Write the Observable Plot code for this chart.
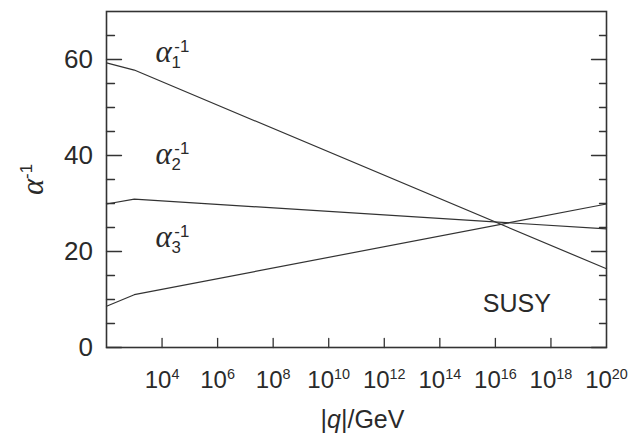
<!DOCTYPE html>
<html><head><meta charset="utf-8">
<script src="https://cdn.jsdelivr.net/npm/d3@7"></script>
<script src="https://cdn.jsdelivr.net/npm/@observablehq/plot@0.6"></script>
<style>body{margin:0;background:#fff} svg{display:block}</style>
</head><body><div id="chart"></div>
<script>
// ---- data ----
const energies = [1e2, 1e3, 1e20];            // |q| in GeV
const alpha1Inv = [59.3, 57.8, 16.4];
const alpha2Inv = [29.9, 30.9, 24.7];
const alpha3Inv = [8.6, 11.0, 29.9];
const seriesLabels = ["*α*_{1}^{-1}", "*α*_{2}^{-1}", "*α*_{3}^{-1}"];
const seriesLabelQ = [5.75e3, 5.75e3, 5.75e3];
const seriesLabelV = [59.4, 38.3, 21.0];
const xTickExponents = [4, 6, 8, 10, 12, 14, 16, 18, 20];
const xTickMarks = [4, 6, 8, 10, 12, 14, 16, 18];
const yMajorTicks = [0, 20, 40, 60];
const yMinorTicks = [5, 10, 15, 25, 30, 35, 45, 50, 55, 65];
const annotationText = ["SUSY"];
const annotationQ = [3.5e15];
const annotationV = [7.4];
const xTitle = "|*q*|/GeV";
const yTitle = "*α*^{-1}";

// ---- build table ----
const rows = [];
[alpha1Inv, alpha2Inv, alpha3Inv].forEach((vals, s) =>
  energies.forEach((q, i) => rows.push({series: s + 1, q, v: vals[i]})));

const ink = "#2a2a2a";
const lineShape = {draw(ctx, l) { ctx.moveTo(0, 0); ctx.lineTo(0, -l); }};
const tickOpts = (extra) => Object.assign({anchor: "start", shape: lineShape, stroke: "#333", strokeWidth: 1.3}, extra);

const plot = Plot.plot({
  width: 630, height: 437,
  marginLeft: 106, marginRight: 24, marginTop: 11, marginBottom: 90,
  x: {type: "log", domain: [1e2, 1e20], axis: null},
  y: {domain: [0, 70], axis: null},
  style: {fontFamily: "'Liberation Sans', Arial, Helvetica, sans-serif", color: ink, background: "#fff", overflow: "visible"},
  marks: [
    Plot.line(rows, {x: "q", y: "v", z: "series", stroke: "#333", strokeWidth: 1.2}),
    // inward ticks
    Plot.vector(yMajorTicks, tickOpts({y: d => d, frameAnchor: "left", rotate: 90, length: 15})),
    Plot.vector(yMinorTicks, tickOpts({y: d => d, frameAnchor: "left", rotate: 90, length: 8})),
    Plot.vector(yMajorTicks, tickOpts({y: d => d, frameAnchor: "right", rotate: -90, length: 15})),
    Plot.vector(yMinorTicks, tickOpts({y: d => d, frameAnchor: "right", rotate: -90, length: 7})),
    Plot.vector(xTickMarks, tickOpts({x: d => 10 ** d, frameAnchor: "bottom", rotate: 0, length: 9})),
    Plot.frame({stroke: "#333", strokeWidth: 1.6}),
    // tick labels
    Plot.text(yMajorTicks, {y: d => d, frameAnchor: "left", dx: -13.5, textAnchor: "end", lineAnchor: "middle", fontSize: 26, text: d => String(d), fill: ink}),
    Plot.text(xTickExponents, {x: d => 10 ** d, frameAnchor: "bottom", dy: 40, textAnchor: "middle", lineAnchor: "bottom", fontSize: 24, text: d => `10^{${d}}`, fill: ink}),
    // titles
    Plot.text([xTitle], {frameAnchor: "bottom", dx: 6, dy: 80, textAnchor: "middle", lineAnchor: "bottom", fontSize: 25, text: d => d, fill: ink}),
    Plot.text([yTitle], {frameAnchor: "left", dx: -64, rotate: -90, textAnchor: "middle", lineAnchor: "bottom", fontSize: 28, text: d => d, fill: ink}),
    // series labels
    Plot.text(seriesLabels, {x: (d, i) => seriesLabelQ[i], y: (d, i) => seriesLabelV[i], textAnchor: "start", lineAnchor: "bottom", fontSize: 28, text: d => d, fill: ink}),
    Plot.text(annotationText, {x: (d, i) => annotationQ[i], y: (d, i) => annotationV[i], textAnchor: "start", lineAnchor: "bottom", fontSize: 25, text: d => d, fill: ink})
  ]
});
document.getElementById("chart").appendChild(plot);

// ---- rich text: *italic*, ^{sup}, _{sub} ----
function richify(root) {
  d3.select(root).selectAll("text").each(function () {
    const s = this.textContent;
    if (!/[\^_*]/.test(s)) return;
    const base = parseFloat(getComputedStyle(this).fontSize) || 16;
    const toks = s.match(/(\^\{[^}]*\}|_\{[^}]*\}|\*[^*]*\*|[^^_*]+)/g) || [];
    this.textContent = "";
    const sel = d3.select(this);
    let offset = 0; // current baseline offset in px (positive = down)
    let lastSubWidth = 0;
    toks.forEach((t, k) => {
      let type = "normal", txt = t;
      if (t.startsWith("^{")) { type = "sup"; txt = t.slice(2, -1); }
      else if (t.startsWith("_{")) { type = "sub"; txt = t.slice(2, -1); }
      else if (t.startsWith("*")) { type = "ital"; txt = t.slice(1, -1); }
      const target = type === "sup" ? -0.36 * base : type === "sub" ? 0.21 * base : 0;
      const ts = sel.append("tspan").text(txt);
      if (target !== offset) ts.attr("dy", target - offset);
      offset = target;
      if (type === "sup" || type === "sub") ts.attr("font-size", 0.6 * base);
      if (type === "ital") {
        ts.attr("font-style", "italic");
        if (txt === "α") ts.attr("font-family", "'Liberation Serif', serif").attr("font-size", 1.1 * base);
      }
      if (type === "sup" && toks[k - 1] && toks[k - 1].startsWith("_{")) ts.attr("dx", -0.7 * lastSubWidth);
      if (type === "sub") lastSubWidth = ts.node().getComputedTextLength();
    });
  });
}
richify(plot);
</script>
</body></html>
